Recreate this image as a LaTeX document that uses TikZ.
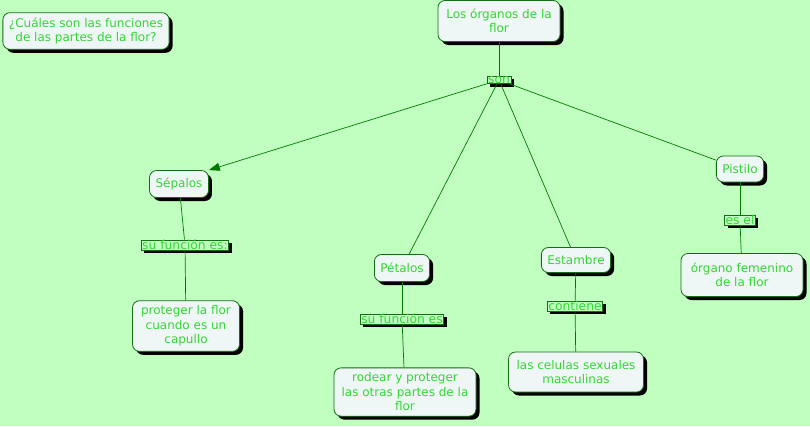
\documentclass[tikz,border=0pt]{standalone}
\usepackage{xcolor}
\usepackage{fontspec}
\setmainfont{DejaVu Sans}
\usepackage{tikz}
\usetikzlibrary{shadows}
\usetikzlibrary{arrows.meta}
\usetikzlibrary{positioning}
\definecolor{fondo}{RGB}{192,255,192}
\definecolor{relleno}{RGB}{238,246,246}
\definecolor{letra}{RGB}{50,215,50}
\definecolor{borde}{RGB}{20,110,20}
\definecolor{linea}{RGB}{0,120,0}
\tikzset{>=stealth,
    concepto/.style={draw=borde, fill=relleno, rounded corners=7pt, text=letra, align=center,
        inner xsep=6pt, inner ysep=5pt, minimum height=27pt, line width=0.8pt,
        font=\fontsize{12}{14.5}\selectfont,
        general shadow={fill=black, shadow xshift=3.5pt, shadow yshift=-3.5pt}},
    enlace/.style={draw=borde, fill=fondo, text=letra, inner xsep=1pt, inner ysep=0.2pt,
        font=\fontsize{12.3}{12.5}\selectfont, line width=0.6pt,
        general shadow={fill=black, shadow xshift=3pt, shadow yshift=-3pt}},
    conector/.style={draw=linea, line width=0.7pt}
}
\begin{document}
\begin{tikzpicture}[x=1pt,y=-1pt]
    \fill[fondo] (0,0) rectangle (810,426);
    \useasboundingbox (0,0) rectangle (810,426);
    \node[concepto] (pregunta) at (86,31) {¿Cuáles son las funciones\\de las partes de la flor?};
    \node[concepto, minimum width=122pt, minimum height=41pt] (organos) at (499,21) {Los órganos de la\\flor};
    \node[enlace] (son) at (499,80) {son};
    \node[concepto] (sepalos) at (179,184) {Sépalos};
    \node[enlace] (funcion1) at (185,245) {su función es:};
    \node[concepto, minimum width=107pt] (proteger) at (186,326) {proteger la flor\\cuando es un\\capullo};
    \node[concepto] (petalos) at (402,268) {Pétalos};
    \node[enlace] (funcion2) at (402,319) {su función es};
    \node[concepto, minimum width=142pt] (rodear) at (405,392) {rodear y proteger\\las otras partes de la\\flor};
    \node[concepto, minimum height=25pt] (estambre) at (576,260) {Estambre};
    \node[enlace] (contiene) at (575,306) {contiene};
    \node[concepto, minimum width=135pt, minimum height=40pt] (celulas) at (576,372) {las celulas sexuales\\masculinas};
    \node[concepto, minimum height=26pt] (pistilo) at (740,169) {Pistilo};
    \node[enlace] (esel) at (740,220) {es el};
    \node[concepto, minimum width=122pt, minimum height=43pt] (femenino) at (742,275) {órgano femenino\\de la flor};
    \path[conector]
    (organos) edge (son)
    (son) edge (petalos)
    (son) edge (estambre)
    (son) edge (pistilo)
    (sepalos) edge (funcion1)
    (funcion1) edge (proteger)
    (petalos) edge (funcion2)
    (funcion2) edge (rodear)
    (estambre) edge (contiene)
    (contiene) edge (celulas)
    (pistilo) edge (esel)
    (esel) edge (femenino);
    \draw[conector, -{Triangle[length=11pt,width=8pt]}, linea] (son) -- (sepalos.north east);
\end{tikzpicture}
\end{document}
